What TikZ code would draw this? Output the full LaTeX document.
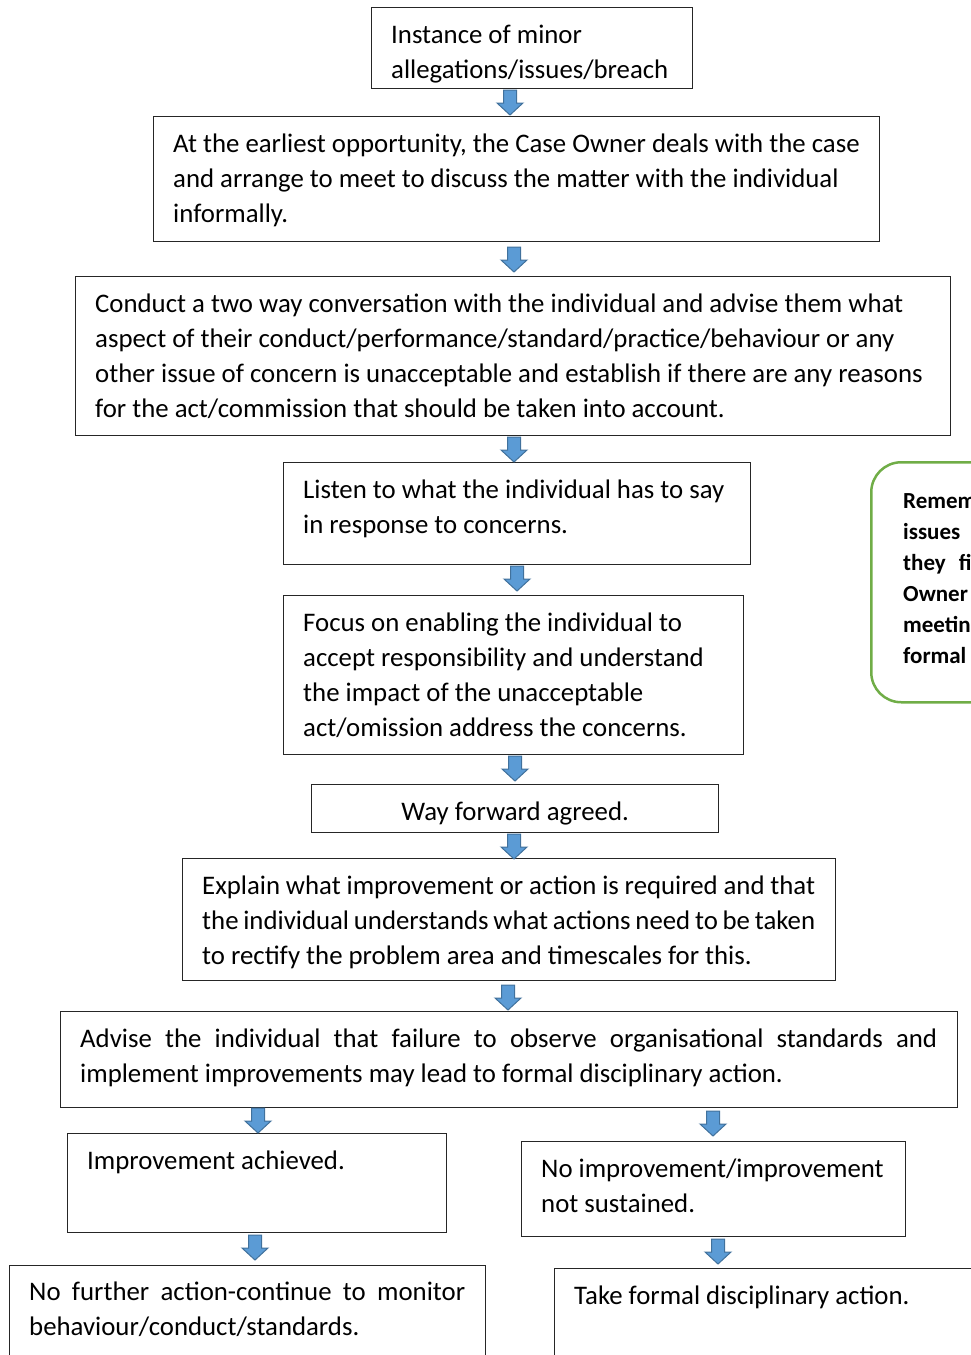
\documentclass[tikz,border=0pt]{standalone}
\usepackage{fontspec}
\setmainfont{Carlito}
\usetikzlibrary{positioning,calc}
\definecolor{arrowblue}{RGB}{91,155,213}
\definecolor{arrowedge}{RGB}{65,113,156}
\definecolor{notegreen}{RGB}{112,173,71}
\newcommand{\fullline}[2]{\hbox to #1pt{#2}}

\begin{document}
\begin{tikzpicture}[
    x=1pt, y=-1pt,
    box/.style={rectangle, draw=black!85, line width=1.1pt, anchor=north west, inner sep=0pt},
    txt/.style={anchor=north west, inner sep=0pt, align=left, font=\fontsize{26.8}{35}\selectfont},
    note/.style={rectangle, draw=notegreen, line width=2.5pt, rounded corners=30pt, anchor=north west, inner sep=0pt},
    notetxt/.style={anchor=north west, inner sep=0pt, align=left, font=\fontsize{23}{31}\selectfont\bfseries},
    downarr/.pic={\draw[draw=arrowedge, fill=arrowblue, line width=1pt] (-6.5,0) -- (6.5,0) -- (6.5,13) -- (13,13) -- (0,25) -- (-13,13) -- (-6.5,13) -- cycle;}
]
    \useasboundingbox (0,0) rectangle (971,1355);
    \clip (0,0) rectangle (971,1355);

    % Boxes
    \node[box, minimum width=321, minimum height=81] (instance) at (371,7) {};
    \node[box, minimum width=726, minimum height=125] (earliest) at (153,116) {};
    \node[box, minimum width=875, minimum height=159] (conduct) at (75,276) {};
    \node[box, minimum width=467, minimum height=102] (listen) at (283,462) {};
    \node[box, minimum width=460, minimum height=159] (focus) at (283,595) {};
    \node[box, minimum width=407, minimum height=48] (agreed) at (311,784) {};
    \node[box, minimum width=653, minimum height=122] (explain) at (182,858) {};
    \node[box, minimum width=897, minimum height=96] (advise) at (60,1011) {};
    \node[box, minimum width=379, minimum height=99] (achieved) at (67,1133) {};
    \node[box, minimum width=384, minimum height=95] (notsust) at (521,1141) {};
    \node[box, minimum width=476, minimum height=110] (monitor) at (9,1265) {};
    \node[box, minimum width=440, minimum height=110] (formal) at (554,1268) {};
    \node[note, minimum width=150, minimum height=240] (reminder) at (870,461) {};

    % Texts
    \begin{scope}
        \clip (instance.north west) rectangle (instance.south east);
        \node[txt] (instancetxt) at ([shift={(20,11.5)}]instance.north west) {\strut Instance of minor\\allegations/issues/breach};
    \end{scope}
    \node[txt] (earliesttxt) at ([shift={(20,11.5)}]earliest.north west) {\strut At the earliest opportunity, the Case Owner deals with the case\\and arrange to meet to discuss the matter with the individual\\informally.};
    \node[txt] (conducttxt) at ([shift={(20,11.5)}]conduct.north west) {\strut Conduct a two way conversation with the individual and advise them what\\aspect of their conduct/performance/standard/practice/behaviour or any\\other issue of concern is unacceptable and establish if there are any reasons\\for the act/commission that should be taken into account.};
    \node[txt] (listentxt) at ([shift={(20,11.5)}]listen.north west) {\strut Listen to what the individual has to say\\in response to concerns.};
    \node[txt] (focustxt) at ([shift={(20,11.5)}]focus.north west) {\strut Focus on enabling the individual to\\accept responsibility and understand\\the impact of the unacceptable\\act/omission address the concerns.};
    \begin{scope}
        \clip (agreed.north west) rectangle (agreed.south east);
        \node[txt, anchor=north] (agreedtxt) at ([shift={(0,11.5)}]agreed.north) {\strut Way forward agreed.};
    \end{scope}
    \node[txt] (explaintxt) at ([shift={(20,11.5)}]explain.north west) {\strut\fullline{613}{Explain what improvement or action is required and that}\\\fullline{613}{the individual understands what actions need to be taken}\\to rectify the problem area and timescales for this.};
    \node[txt] (advisetxt) at ([shift={(20,11.5)}]advise.north west) {\strut\fullline{857}{Advise the individual that failure to observe organisational standards and}\\implement improvements may lead to formal disciplinary action.};
    \node[txt] (achievedtxt) at ([shift={(20,11.5)}]achieved.north west) {\strut Improvement achieved.};
    \node[txt] (notsusttxt) at ([shift={(20,11.5)}]notsust.north west) {\strut No improvement/improvement\\not sustained.};
    \node[txt] (monitortxt) at ([shift={(20,10.5)}]monitor.north west) {\strut\fullline{436}{No further action-continue to monitor}\\behaviour/conduct/standards.};
    \node[txt] (formaltxt) at ([shift={(20,11.5)}]formal.north west) {\strut Take formal disciplinary action.};
    \node[notetxt] (remindertxt) at ([shift={(33,25.3)}]reminder.north west) {\strut Remember\\issues\\they\hspace{8pt} first\\Owner\\meeting\\formal};

    % Arrows
    \pic at (510,90) {downarr};
    \pic at (514,247) {downarr};
    \pic at (514,437) {downarr};
    \pic at (517,566) {downarr};
    \pic at (515,756) {downarr};
    \pic at (514,834) {downarr};
    \pic at (508,985) {downarr};
    \pic at (258,1108) {downarr};
    \pic at (713,1111) {downarr};
    \pic at (255,1235) {downarr};
    \pic at (718,1239) {downarr};
\end{tikzpicture}
\end{document}
